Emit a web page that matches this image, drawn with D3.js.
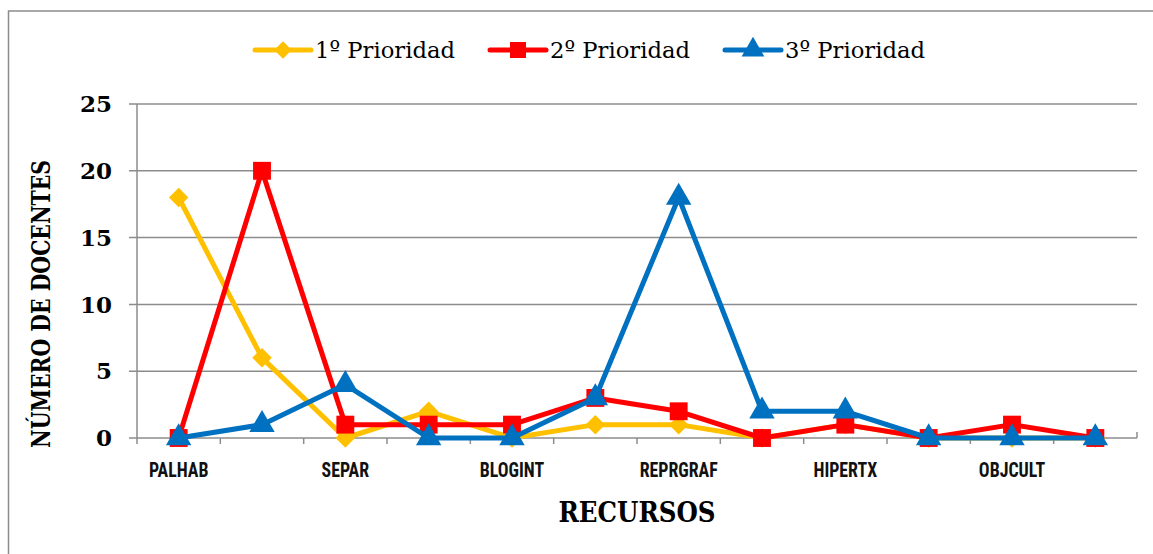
<!DOCTYPE html>
<html>
<head>
<meta charset="utf-8">
<script src="https://cdn.jsdelivr.net/npm/d3@7"></script>
<style>
  body { margin: 0; background: #fff; }
  .grid-line { stroke: #8c8c8c; stroke-width: 1.5; }
</style>
</head>
<body>
<script>
var width = 1153,
    height = 554,
    margin = {top: 104, right: 16, bottom: 116, left: 137};

// 12 recursos, only every second one is labelled in the chart
var categories = ["PALHAB", "", "SEPAR", "", "BLOGINT", "", "REPRGRAF", "", "HIPERTX", "", "OBJCULT", ""];
var seriesNames = ["1º Prioridad", "2º Prioridad", "3º Prioridad"];
var prioridad1 = [18, 6, 0, 2, 0, 1, 1, 0, 1, 0, 0, 0];
var prioridad2 = [0, 20, 1, 1, 1, 3, 2, 0, 1, 0, 1, 0];
var prioridad3 = [0, 1, 4, 0, 0, 3, 18, 2, 2, 0, 0, 0];
var yTicks = [0, 5, 10, 15, 20, 25];
var colors = ["#FFC000", "#FF0000", "#0070C0"];
var symbols = [d3.symbolSquare, d3.symbolSquare, d3.symbolTriangle];
var symbolSizes = [190, 320, 280];
var symbolRotate = [45, 0, 0];

var svg = d3.select("body").append("svg")
    .attr("width", width)
    .attr("height", height);

// рамка диаграммы
svg.append("rect")
    .attr("x", 8.5).attr("y", 11)
    .attr("width", width + 10).attr("height", height + 10)
    .attr("fill", "none")
    .attr("stroke", "#8c8c8c")
    .attr("stroke-width", 1.5);

var xAxisLength = width - margin.left - margin.right;
var yAxisLength = height - margin.top - margin.bottom;

var scaleX = d3.scaleBand()
    .domain(d3.range(categories.length))
    .range([0, xAxisLength]);

var scaleY = d3.scaleLinear()
    .domain([0, 25])
    .range([yAxisLength, 0]);

var g = svg.append("g")
    .attr("transform", "translate(" + margin.left + "," + margin.top + ")");

// горизонтальные линии сетки
g.append("g").selectAll("line")
    .data(yTicks)
    .enter().append("line")
    .classed("grid-line", true)
    .attr("x1", -8)
    .attr("x2", xAxisLength)
    .attr("y1", function(d){ return scaleY(d); })
    .attr("y2", function(d){ return scaleY(d); });

// ось Y
g.append("line").classed("grid-line", true)
    .attr("x1", 0).attr("x2", 0)
    .attr("y1", 0).attr("y2", yAxisLength);

g.append("g").selectAll("text")
    .data(yTicks)
    .enter().append("text")
    .attr("x", -25)
    .attr("y", function(d){ return scaleY(d); })
    .attr("dy", "0.36em")
    .attr("text-anchor", "end")
    .style("font-family", "'DejaVu Serif', serif")
    .style("font-weight", "bold")
    .style("font-size", "23px")
    .text(function(d){ return d; });

// ось X: засечки на границах категорий
var bounds = d3.range(categories.length + 1).map(function(i){ return i * scaleX.step(); });
g.append("g").selectAll("line")
    .data(bounds)
    .enter().append("line")
    .classed("grid-line", true)
    .attr("x1", function(d){ return d; })
    .attr("x2", function(d){ return d; })
    .attr("y1", yAxisLength)
    .attr("y2", function(d, i){ return i === categories.length ? yAxisLength - 6 : yAxisLength + 6; });

// узкие подписи категорий
g.append("g").selectAll("text")
    .data(categories)
    .enter().append("text")
    .attr("transform", function(d, i){
      return "translate(" + (scaleX(i) + scaleX.bandwidth() / 2) + "," + (yAxisLength + 39) + ") scale(0.85,1)";
    })
    .attr("text-anchor", "middle")
    .style("font-family", "'Liberation Sans Narrow', 'Roboto Condensed', sans-serif")
    .style("font-weight", "bold")
    .style("font-size", "21px")
    .style("fill", "#111")
    .text(function(d){ return d; });

// подписи осей
svg.append("text")
    .attr("transform", "translate(50,304) rotate(-90)")
    .attr("text-anchor", "middle")
    .attr("textLength", 288)
    .attr("lengthAdjust", "spacingAndGlyphs")
    .style("font-family", "'DejaVu Serif', serif")
    .style("font-weight", "bold")
    .style("font-size", "26px")
    .text("NÚMERO DE DOCENTES");

svg.append("text")
    .attr("x", 637)
    .attr("y", 522)
    .attr("text-anchor", "middle")
    .attr("textLength", 157)
    .attr("lengthAdjust", "spacingAndGlyphs")
    .style("font-family", "'DejaVu Serif', serif")
    .style("font-weight", "bold")
    .style("font-size", "28px")
    .text("RECURSOS");

// линии серий
var allSeries = [prioridad1, prioridad2, prioridad3];
var line = d3.line()
    .x(function(d, i){ return scaleX(i) + scaleX.bandwidth() / 2; })
    .y(function(d){ return scaleY(d); });

allSeries.forEach(function(values, s){
  var sg = g.append("g");
  sg.append("path")
    .attr("d", line(values))
    .attr("fill", "none")
    .style("stroke", colors[s])
    .style("stroke-width", 5)
    .style("stroke-linejoin", "round");
  sg.selectAll("path.mark")
    .data(values)
    .enter().append("path")
    .attr("class", "mark")
    .attr("transform", function(d, i){
      return "translate(" + (scaleX(i) + scaleX.bandwidth() / 2) + "," + scaleY(d) + ") rotate(" + symbolRotate[s] + ")";
    })
    .attr("d", d3.symbol().type(symbols[s]).size(symbolSizes[s]))
    .style("fill", colors[s]);
});

// легенда
var legendX = [255, 490, 725];
var legend = svg.append("g").selectAll("g")
    .data(seriesNames)
    .enter().append("g")
    .attr("transform", function(d, i){ return "translate(" + legendX[i] + ",50)"; });

legend.append("line")
    .attr("x1", 0).attr("x2", 56)
    .attr("y1", 0).attr("y2", 0)
    .style("stroke", function(d, i){ return colors[i]; })
    .style("stroke-width", 5)
    .style("stroke-linecap", "round");

legend.append("path")
    .attr("transform", function(d, i){ return "translate(28,0) rotate(" + symbolRotate[i] + ")"; })
    .attr("d", function(d, i){ return d3.symbol().type(symbols[i]).size(symbolSizes[i] * 0.8)(); })
    .style("fill", function(d, i){ return colors[i]; });

legend.append("text")
    .attr("x", 60)
    .attr("y", 0)
    .attr("dy", "0.35em")
    .style("font-family", "'DejaVu Serif', serif")
    .attr("textLength", 140)
    .attr("lengthAdjust", "spacingAndGlyphs")
    .style("font-size", "23px")
    .text(function(d){ return d; });
</script>
</body>
</html>
